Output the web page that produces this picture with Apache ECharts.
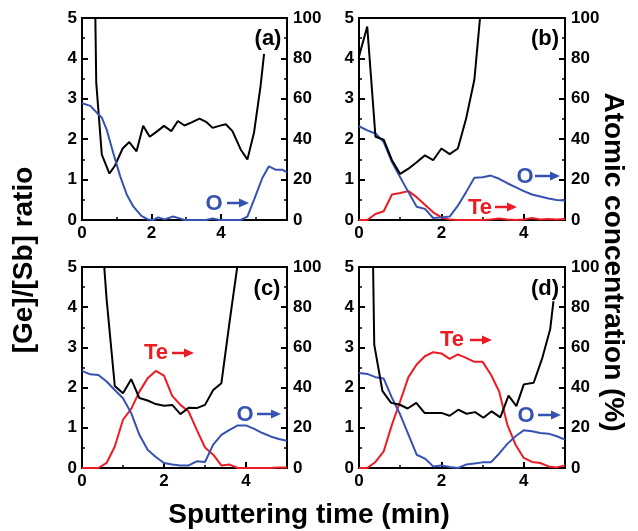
<!DOCTYPE html>
<html>
<head>
<meta charset="utf-8">
<script src="https://cdn.jsdelivr.net/npm/echarts@6/dist/echarts.min.js"></script>
<style>
  html, body { margin: 0; padding: 0; background: #fff; }
  #main { width: 638px; height: 531px; }
</style>
</head>
<body>
<div id="main"></div>
<script>
// panel (a)
var tRatioA = [0.36, 0.41, 0.57, 0.79, 0.95, 1.17, 1.36, 1.57, 1.76, 1.95, 2.17, 2.36, 2.57, 2.76, 2.95, 3.14, 3.38, 3.57, 3.76, 3.95, 4.14, 4.33, 4.57, 4.76, 4.95, 5.14, 5.24];
var ratioA = [6.5, 3.4, 1.62, 1.15, 1.35, 1.77, 1.93, 1.70, 2.33, 2.06, 2.20, 2.33, 2.20, 2.45, 2.34, 2.41, 2.51, 2.43, 2.28, 2.33, 2.37, 2.20, 1.74, 1.50, 2.16, 3.32, 4.11];
var tOA = [0, 0.24, 0.43, 0.57, 0.71, 0.9, 1.1, 1.29, 1.48, 1.71, 1.9, 2.05, 2.19, 2.38, 2.62, 2.81, 2.95, 3.57, 3.76, 3.95, 4.57, 4.76, 4.95, 5.19, 5.38, 5.57, 5.76, 5.9];
var oA = [57.8, 56.5, 53, 50.7, 44.8, 33.2, 21.6, 12.5, 6.6, 2, 0.3, 0, 1.3, 0.3, 1.7, 0.8, 0, 0, 0.7, 0, 0, 1.7, 10, 20.8, 26.6, 24.9, 24.9, 23.6];

// panels (b)-(d) share a 0.2 min step
var tStep = [0, 0.2, 0.4, 0.6, 0.8, 1.0, 1.2, 1.4, 1.6, 1.8, 2.0, 2.2, 2.4, 2.6, 2.8, 3.0, 3.2, 3.4, 3.6, 3.8, 4.0, 4.2, 4.4, 4.6, 4.8, 5.0];

var ratioB = [4.05, 4.79, 2.06, 1.99, 1.48, 1.14, 1.27, 1.43, 1.60, 1.48, 1.77, 1.63, 1.77, 2.51, 3.47, 5.7, null, null, null, null, null, null, null, null, null, null];
var oB = [46.4, 44.4, 42.8, 38.6, 28.7, 21.2, 13.8, 6.6, 5.5, 1.0, 1.3, 1.7, 7.1, 13.8, 20.9, 21.2, 22.0, 20.4, 18.2, 16.3, 14.3, 12.6, 11.6, 10.6, 9.9, 9.6];
var teB = [0, 0, 3, 4.3, 12.6, 13.4, 14.3, 11.3, 7.6, 3.8, 1.3, 0.2, 0, 0, 0, 0, 0.3, 0.7, 0.3, 0, 0.3, 1.0, 0.3, 0.5, 0.2, 0.5];

var ratioC = [null, null, 7.0, 4.2, 2.04, 1.86, 2.21, 1.74, 1.68, 1.59, 1.55, 1.57, 1.34, 1.50, 1.49, 1.57, 1.94, 2.11, 3.64, 5.1, 7.0, null, null, null, null, null];
var oC = [48.3, 46.6, 46.3, 43.0, 38.8, 34.7, 27.3, 16.5, 9.1, 5.5, 2.5, 1.7, 1.3, 1.3, 3.3, 3.0, 11.6, 16.5, 19.0, 21.2, 21.2, 19.5, 17.4, 15.7, 14.4, 13.6];
var teC = [0, 0, 0, 2.5, 10.7, 24.0, 29.4, 38.0, 44.6, 48.3, 46.0, 35.9, 31.4, 28.1, 19.0, 10.2, 6.6, 1.3, 1.7, 0, 0, 0, 0, 0, 0.3, 0.3];

var tRatioD = [0.3, 0.37, 0.57, 0.78, 0.98, 1.18, 1.39, 1.59, 1.8, 2.0, 2.2, 2.41, 2.61, 2.82, 3.02, 3.22, 3.43, 3.63, 3.82, 4.0, 4.24, 4.45, 4.64, 4.72];
var ratioD = [8.0, 3.07, 1.91, 1.62, 1.58, 1.48, 1.62, 1.37, 1.37, 1.37, 1.30, 1.45, 1.35, 1.39, 1.25, 1.41, 1.26, 1.80, 1.54, 2.08, 2.12, 2.74, 3.45, 4.15];
var oD = [47.3, 46.8, 45.2, 44.5, 34.9, 26.6, 16.6, 6.6, 4.7, 0.8, 1.3, 0.5, 0, 1.7, 2.2, 2.8, 2.8, 7.1, 12.0, 15.8, 18.8, 18.3, 17.4, 17.1, 15.8, 14.1];
var teD = [0, 0, 3, 8.3, 21.6, 33.2, 45.2, 51.5, 55.6, 57.6, 57.0, 54.3, 56.5, 54.8, 52.8, 52.8, 46.5, 38.2, 21.6, 11.6, 5.0, 3.0, 2.5, 0.8, 0.3, 1.3];

var xMax = [5.9, 5, 5, 5];
var panelTags = ['(a)', '(b)', '(c)', '(d)'];

var BLUE = '#3552b2';
var RED = '#ec1c24';
var FONT = 'Liberation Sans, Arial, sans-serif';

function pairs(t, v) {
  return t.map(function (x, i) { return [x, v[i]]; });
}

var grids = [
  {left: 82, right: 351, top: 18, bottom: 311},
  {left: 359, right: 73, top: 18, bottom: 311},
  {left: 82, right: 351, top: 267, bottom: 63},
  {left: 359, right: 73, top: 267, bottom: 63}
].map(function (g) {
  g.show = true;
  g.borderColor = '#000';
  g.borderWidth = 2;
  return g;
});

var tickLabel = {color: '#000', fontSize: 17, fontWeight: 'bold', fontFamily: FONT};

function axisBase() {
  return {
    type: 'value',
    axisLine: {show: true, onZero: false, lineStyle: {color: '#000', width: 2}},
    axisTick: {show: true, inside: true, length: 6, lineStyle: {color: '#000', width: 2}},
    minorTick: {show: true, splitNumber: 2, length: 3, lineStyle: {color: '#000', width: 1.5}},
    splitLine: {show: false}
  };
}

var xAxes = [], yAxes = [];
for (var i = 0; i < 4; i++) {
  var xa = axisBase();
  xa.gridIndex = i; xa.min = 0; xa.max = xMax[i]; xa.interval = 2;
  xa.axisLabel = Object.assign({margin: 5, showMaxLabel: false}, tickLabel);
  xAxes.push(xa);

  var yl = axisBase();
  yl.gridIndex = i; yl.position = 'left'; yl.min = 0; yl.max = 5; yl.interval = 1;
  yl.axisLabel = Object.assign({margin: 5}, tickLabel);
  yAxes.push(yl);

  var yr = axisBase();
  yr.gridIndex = i; yr.position = 'right'; yr.min = 0; yr.max = 100; yr.interval = 20;
  yr.axisLabel = Object.assign({margin: 6}, tickLabel);
  yAxes.push(yr);
}

function line(panel, right, data, color) {
  return {
    type: 'line', xAxisIndex: panel, yAxisIndex: panel * 2 + (right ? 1 : 0),
    data: data, symbol: 'none', clip: true, connectNulls: false,
    lineStyle: {color: color, width: 2}, animation: false
  };
}

var series = [
  line(0, false, pairs(tRatioA, ratioA), '#000'),
  line(0, true, pairs(tOA, oA), BLUE),
  line(1, true, pairs(tStep, teB), RED),
  line(1, true, pairs(tStep, oB), BLUE),
  line(1, false, pairs(tStep, ratioB), '#000'),
  line(2, true, pairs(tStep, teC), RED),
  line(2, true, pairs(tStep, oC), BLUE),
  line(2, false, pairs(tStep, ratioC), '#000'),
  line(3, true, pairs(tStep, teD), RED),
  line(3, true, pairs(tStep, oD), BLUE),
  line(3, false, pairs(tRatioD, ratioD), '#000')
];

function txt(x, y, s, color, size, rot) {
  return {
    type: 'text', x: x, y: y, rotation: rot || 0,
    style: {text: s, fill: color, font: 'bold ' + size + 'px ' + FONT, textAlign: 'center', textVerticalAlign: 'middle'}
  };
}
function arrow(x1, x2, y, color) {
  return [
    {type: 'line', shape: {x1: x1, y1: y, x2: x2 - 6, y2: y}, style: {stroke: color, lineWidth: 2.5}},
    {type: 'polygon', shape: {points: [[x2 - 10, y - 4.5], [x2, y], [x2 - 10, y + 4.5]]}, style: {fill: color}}
  ];
}

var graphics = [
  txt(24, 260, '[Ge]/[Sb] ratio', '#000', 28, Math.PI / 2),
  txt(613, 262, 'Atomic concentration (%)', '#000', 28, -Math.PI / 2),
  txt(309, 515, 'Sputtering time (min)', '#000', 28),
  txt(268, 39, panelTags[0], '#000', 22),
  txt(545, 39, panelTags[1], '#000', 22),
  txt(267, 289, panelTags[2], '#000', 22),
  txt(545, 289, panelTags[3], '#000', 22),
  txt(214, 204, 'O', BLUE, 22),
  txt(525, 177, 'O', BLUE, 22),
  txt(480, 208, 'Te', RED, 22),
  txt(156, 353, 'Te', RED, 22),
  txt(245, 415, 'O', BLUE, 22),
  txt(452, 340, 'Te', RED, 22),
  txt(526, 416, 'O', BLUE, 22)
].concat(
  arrow(227, 249, 203, BLUE),
  arrow(535, 560, 176, BLUE),
  arrow(495, 517, 207, RED),
  arrow(172, 194, 353, RED),
  arrow(257, 281, 414, BLUE),
  arrow(470, 492, 340, RED),
  arrow(538, 561, 415, BLUE)
);

var chart = echarts.init(document.getElementById('main'), null, {renderer: 'canvas'});
chart.setOption({
  backgroundColor: '#fff',
  animation: false,
  grid: grids,
  xAxis: xAxes,
  yAxis: yAxes,
  series: series,
  graphic: graphics
});
</script>
</body>
</html>
